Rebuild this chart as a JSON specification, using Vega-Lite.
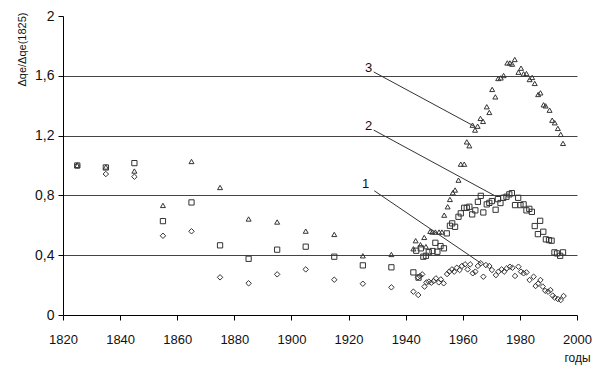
{
  "$schema": "https://vega.github.io/schema/vega-lite/v6.json",
  "width": 514,
  "height": 299,
  "autosize": {"type": "none"},
  "padding": {"left": 63, "top": 16, "right": 23, "bottom": 55},
  "background": "white",
  "config": {"view": {"stroke": null}, "font": "Liberation Sans"},
  "layer": [
    {
      "data": {"values": [
        {"year":1825,"s":"1","v":1.0},{"year":1825,"s":"2","v":1.0},{"year":1825,"s":"3","v":1.0},
        {"year":1835,"s":"1","v":0.943},{"year":1835,"s":"2","v":0.987},{"year":1835,"s":"3","v":0.99},
        {"year":1845,"s":"1","v":0.925},{"year":1845,"s":"2","v":1.016},{"year":1845,"s":"3","v":0.963},
        {"year":1855,"s":"1","v":0.53},{"year":1855,"s":"2","v":0.628},{"year":1855,"s":"3","v":0.733},
        {"year":1865,"s":"1","v":0.56},{"year":1865,"s":"2","v":0.753},{"year":1865,"s":"3","v":1.027},
        {"year":1875,"s":"1","v":0.252},{"year":1875,"s":"2","v":0.466},{"year":1875,"s":"3","v":0.853},
        {"year":1885,"s":"1","v":0.212},{"year":1885,"s":"2","v":0.376},{"year":1885,"s":"3","v":0.642},
        {"year":1895,"s":"1","v":0.272},{"year":1895,"s":"2","v":0.437},{"year":1895,"s":"3","v":0.622},
        {"year":1905,"s":"1","v":0.305},{"year":1905,"s":"2","v":0.457},{"year":1905,"s":"3","v":0.561},
        {"year":1915,"s":"1","v":0.236},{"year":1915,"s":"2","v":0.39},{"year":1915,"s":"3","v":0.539},
        {"year":1925,"s":"1","v":0.209},{"year":1925,"s":"2","v":0.332},{"year":1925,"s":"3","v":0.396},
        {"year":1935,"s":"1","v":0.185},{"year":1935,"s":"2","v":0.319},{"year":1935,"s":"3","v":0.405},

        {"year":1942.7,"s":"1","v":0.156},{"year":1944.4,"s":"1","v":0.134},{"year":1944.3,"s":"1","v":0.252},
        {"year":1945.0,"s":"1","v":0.261},{"year":1945.8,"s":"1","v":0.272},{"year":1946.6,"s":"1","v":0.19},
        {"year":1947.3,"s":"1","v":0.218},{"year":1948.1,"s":"1","v":0.223},{"year":1949.0,"s":"1","v":0.216},
        {"year":1949.8,"s":"1","v":0.227},{"year":1950.6,"s":"1","v":0.245},{"year":1951.6,"s":"1","v":0.218},
        {"year":1952.3,"s":"1","v":0.238},{"year":1953.3,"s":"1","v":0.212},{"year":1954.5,"s":"1","v":0.274},
        {"year":1955.3,"s":"1","v":0.29},{"year":1956.2,"s":"1","v":0.305},{"year":1957.0,"s":"1","v":0.29},
        {"year":1957.9,"s":"1","v":0.316},{"year":1958.9,"s":"1","v":0.301},{"year":1959.7,"s":"1","v":0.328},
        {"year":1960.8,"s":"1","v":0.339},{"year":1961.7,"s":"1","v":0.305},{"year":1962.6,"s":"1","v":0.339},
        {"year":1963.5,"s":"1","v":0.279},{"year":1964.4,"s":"1","v":0.29},{"year":1965.3,"s":"1","v":0.328},
        {"year":1966.3,"s":"1","v":0.346},{"year":1967.2,"s":"1","v":0.256},{"year":1968.1,"s":"1","v":0.334},
        {"year":1969.3,"s":"1","v":0.328},{"year":1970.2,"s":"1","v":0.301},{"year":1971.6,"s":"1","v":0.267},
        {"year":1972.5,"s":"1","v":0.29},{"year":1973.6,"s":"1","v":0.305},{"year":1974.5,"s":"1","v":0.29},
        {"year":1975.4,"s":"1","v":0.312},{"year":1976.5,"s":"1","v":0.323},{"year":1977.4,"s":"1","v":0.316},
        {"year":1978.3,"s":"1","v":0.261},{"year":1979.5,"s":"1","v":0.323},{"year":1980.4,"s":"1","v":0.29},
        {"year":1981.3,"s":"1","v":0.279},{"year":1982.3,"s":"1","v":0.285},{"year":1983.4,"s":"1","v":0.234},
        {"year":1984.8,"s":"1","v":0.256},{"year":1985.5,"s":"1","v":0.194},{"year":1986.4,"s":"1","v":0.21},
        {"year":1987.2,"s":"1","v":0.234},{"year":1988.0,"s":"1","v":0.19},{"year":1988.9,"s":"1","v":0.162},
        {"year":1989.9,"s":"1","v":0.156},{"year":1990.7,"s":"1","v":0.167},{"year":1991.5,"s":"1","v":0.13},
        {"year":1992.2,"s":"1","v":0.116},{"year":1993.3,"s":"1","v":0.107},{"year":1994.3,"s":"1","v":0.1},
        {"year":1995.3,"s":"1","v":0.127},

        {"year":1942.7,"s":"2","v":0.285},{"year":1943.7,"s":"2","v":0.43},{"year":1944.5,"s":"2","v":0.25},
        {"year":1945.3,"s":"2","v":0.446},{"year":1946.2,"s":"2","v":0.39},{"year":1947.1,"s":"2","v":0.396},
        {"year":1948.1,"s":"2","v":0.42},{"year":1949.4,"s":"2","v":0.428},{"year":1950.4,"s":"2","v":0.483},
        {"year":1951.1,"s":"2","v":0.423},{"year":1952.2,"s":"2","v":0.461},{"year":1953.4,"s":"2","v":0.446},
        {"year":1954.4,"s":"2","v":0.546},{"year":1955.5,"s":"2","v":0.597},{"year":1956.3,"s":"2","v":0.613},
        {"year":1957.3,"s":"2","v":0.59},{"year":1958.5,"s":"2","v":0.657},{"year":1959.3,"s":"2","v":0.68},
        {"year":1960.5,"s":"2","v":0.717},{"year":1961.4,"s":"2","v":0.717},{"year":1962.3,"s":"2","v":0.724},
        {"year":1963.3,"s":"2","v":0.673},{"year":1964.4,"s":"2","v":0.7},{"year":1965.3,"s":"2","v":0.757},
        {"year":1966.3,"s":"2","v":0.797},{"year":1967.2,"s":"2","v":0.686},{"year":1968.4,"s":"2","v":0.74},
        {"year":1969.3,"s":"2","v":0.75},{"year":1970.2,"s":"2","v":0.762},{"year":1971.5,"s":"2","v":0.704},
        {"year":1972.3,"s":"2","v":0.775},{"year":1973.2,"s":"2","v":0.749},{"year":1974.2,"s":"2","v":0.784},
        {"year":1975.3,"s":"2","v":0.791},{"year":1976.3,"s":"2","v":0.807},{"year":1977.2,"s":"2","v":0.815},
        {"year":1978.3,"s":"2","v":0.735},{"year":1979.4,"s":"2","v":0.784},{"year":1980.2,"s":"2","v":0.735},
        {"year":1981.3,"s":"2","v":0.74},{"year":1982.3,"s":"2","v":0.7},{"year":1983.3,"s":"2","v":0.71},
        {"year":1984.2,"s":"2","v":0.69},{"year":1985.2,"s":"2","v":0.595},{"year":1986.3,"s":"2","v":0.541},
        {"year":1987.1,"s":"2","v":0.63},{"year":1988.2,"s":"2","v":0.557},{"year":1989.1,"s":"2","v":0.506},
        {"year":1990.2,"s":"2","v":0.501},{"year":1991.1,"s":"2","v":0.497},{"year":1992.1,"s":"2","v":0.419},
        {"year":1993.0,"s":"2","v":0.412},{"year":1994.1,"s":"2","v":0.396},{"year":1995.1,"s":"2","v":0.419},

        {"year":1942.7,"s":"3","v":0.443},{"year":1943.5,"s":"3","v":0.497},{"year":1945.2,"s":"3","v":0.47},
        {"year":1946.5,"s":"3","v":0.519},{"year":1947.1,"s":"3","v":0.457},{"year":1948.6,"s":"3","v":0.56},
        {"year":1949.3,"s":"3","v":0.555},{"year":1950.4,"s":"3","v":0.555},{"year":1951.7,"s":"3","v":0.555},
        {"year":1952.7,"s":"3","v":0.555},{"year":1953.5,"s":"3","v":0.668},{"year":1954.7,"s":"3","v":0.724},
        {"year":1955.5,"s":"3","v":0.773},{"year":1956.5,"s":"3","v":0.818},{"year":1957.3,"s":"3","v":0.836},
        {"year":1958.5,"s":"3","v":0.902},{"year":1959.3,"s":"3","v":1.009},{"year":1960.5,"s":"3","v":1.009},
        {"year":1961.4,"s":"3","v":1.158},{"year":1962.3,"s":"3","v":1.132},{"year":1963.4,"s":"3","v":1.27},
        {"year":1964.3,"s":"3","v":1.237},{"year":1965.2,"s":"3","v":1.263},{"year":1966.2,"s":"3","v":1.315},
        {"year":1967.1,"s":"3","v":1.295},{"year":1968.4,"s":"3","v":1.393},{"year":1969.3,"s":"3","v":1.355},
        {"year":1970.3,"s":"3","v":1.509},{"year":1971.4,"s":"3","v":1.459},{"year":1972.4,"s":"3","v":1.582},
        {"year":1973.3,"s":"3","v":1.586},{"year":1974.3,"s":"3","v":1.602},{"year":1975.6,"s":"3","v":1.686},
        {"year":1976.5,"s":"3","v":1.686},{"year":1977.3,"s":"3","v":1.678},{"year":1978.2,"s":"3","v":1.709},
        {"year":1979.5,"s":"3","v":1.624},{"year":1980.4,"s":"3","v":1.651},{"year":1981.3,"s":"3","v":1.613},
        {"year":1982.3,"s":"3","v":1.615},{"year":1983.4,"s":"3","v":1.575},{"year":1984.3,"s":"3","v":1.589},
        {"year":1985.2,"s":"3","v":1.549},{"year":1986.4,"s":"3","v":1.475},{"year":1987.2,"s":"3","v":1.486},
        {"year":1988.3,"s":"3","v":1.406},{"year":1989.0,"s":"3","v":1.399},{"year":1990.4,"s":"3","v":1.37},
        {"year":1991.3,"s":"3","v":1.303},{"year":1992.2,"s":"3","v":1.286},{"year":1993.3,"s":"3","v":1.248},
        {"year":1994.3,"s":"3","v":1.208},{"year":1995.1,"s":"3","v":1.148}
      ]},
      "mark": {"type": "point", "filled": false, "strokeWidth": 1, "color": "#333", "opacity": 1},
      "encoding": {
        "x": {
          "field": "year", "type": "quantitative",
          "scale": {"domain": [1820, 2000], "nice": false, "zero": false},
          "axis": {
            "values": [1820,1840,1860,1880,1900,1920,1940,1960,1980,2000],
            "format": "d", "grid": false, "tickSize": 5, "tickColor": "#000", "domainColor": "#000",
            "labelFontSize": 13, "labelColor": "#111", "labelPadding": 13, "labelFlush": false,
            "title": "годы", "titleFontSize": 12, "titleFontWeight": "normal", "titleColor": "#111",
            "titleX": 514, "titleY": 42, "titleAlign": "center", "titleBaseline": "middle"
          }
        },
        "y": {
          "field": "v", "type": "quantitative",
          "scale": {"domain": [0, 2], "nice": false},
          "axis": {
            "values": [0, 0.4, 0.8, 1.2, 1.6, 2],
            "format": "~g", "labelExpr": "replace(datum.label, '.', ',')",
            "grid": true, "gridColor": "#444",
            "gridOpacity": {"condition": {"test": "datum.value == 2 || datum.value == 0", "value": 0}, "value": 1},
            "tickSize": 5, "tickColor": "#000", "domainColor": "#000",
            "labelFontSize": 14, "labelColor": "#111", "labelPadding": 4,
            "title": "Δqe/Δqe(1825)", "titleFontSize": 11, "titleFontWeight": "normal", "titleColor": "#111",
            "titleAngle": -90, "titleX": -41, "titleY": 33, "titleAlign": "center", "titleBaseline": "middle"
          }
        },
        "shape": {"field": "s", "type": "nominal", "scale": {"domain": ["1","2","3"], "range": ["diamond","square","triangle-up"]}, "legend": null},
        "size": {"field": "s", "type": "nominal", "scale": {"domain": ["1","2","3"], "range": [30, 25, 36]}, "legend": null}
      }
    },
    {
      "data": {"values": [
        {"x": 1928.8, "y": 1.626, "x2": 1964.0, "y2": 1.263},
        {"x": 1928.8, "y": 1.237, "x2": 1971.0, "y2": 0.80},
        {"x": 1929.0, "y": 0.831, "x2": 1966.5, "y2": 0.345}
      ]},
      "mark": {"type": "rule", "color": "#333", "strokeWidth": 1},
      "encoding": {
        "x": {"field": "x", "type": "quantitative"},
        "y": {"field": "y", "type": "quantitative"},
        "x2": {"field": "x2"},
        "y2": {"field": "y2"}
      }
    },
    {
      "data": {"values": [
        {"t": "3", "x": 1927.0, "y": 1.65},
        {"t": "2", "x": 1927.0, "y": 1.263},
        {"t": "1", "x": 1926.0, "y": 0.876}
      ]},
      "mark": {"type": "text", "fontSize": 13, "color": "#111", "align": "center", "baseline": "middle"},
      "encoding": {
        "x": {"field": "x", "type": "quantitative"},
        "y": {"field": "y", "type": "quantitative"},
        "text": {"field": "t"}
      }
    }
  ]
}
